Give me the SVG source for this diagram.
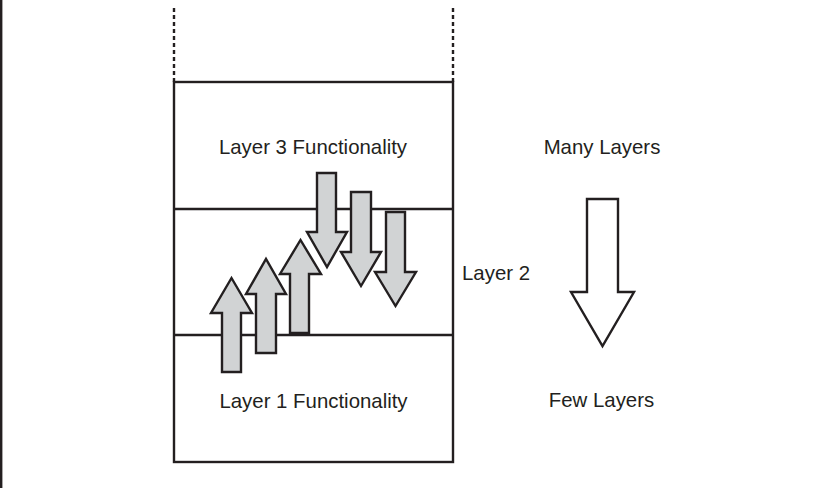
<svg xmlns="http://www.w3.org/2000/svg" width="828" height="493" viewBox="0 0 828 493">
  <style>
    .ln { stroke: #231f20; stroke-width: 2.4; fill: none; }
    .dash { stroke: #231f20; stroke-width: 2.4; fill: none; stroke-dasharray: 4 3; }
    .arr { stroke: #231f20; stroke-width: 2.4; fill: #d1d3d4; stroke-linejoin: miter; }
    .hollow { stroke: #231f20; stroke-width: 2.4; fill: #ffffff; stroke-linejoin: miter; }
    .lbl { font-family: "Liberation Sans", Arial, sans-serif; font-size: 20.4px; fill: #231f20; }
  </style>
  <rect width="828" height="493" fill="#ffffff"/>

  <!-- page rule on the left -->
  <line x1="1.2" y1="0" x2="1.2" y2="488" class="ln" stroke-width="2.5"/>

  <!-- layer stack -->
  <g id="stack">
    <line class="dash" x1="174" y1="8" x2="174" y2="82"/>
    <line class="dash" x1="453" y1="8" x2="453" y2="82"/>
    <rect class="ln" x="174" y="82" width="279" height="380"/>
  </g>
  <g id="layer3">
    <line class="ln" x1="174" y1="209" x2="453" y2="209"/>
    <text class="lbl" x="313" y="153.5" text-anchor="middle">Layer 3 Functionality</text>
  </g>
  <g id="layer2">
    <line class="ln" x1="174" y1="335" x2="453" y2="335"/>
    <text class="lbl" x="462" y="279.5">Layer 2</text>
  </g>
  <g id="layer1">
    <text class="lbl" x="313.5" y="407.5" text-anchor="middle">Layer 1 Functionality</text>
  </g>

  <!-- upward and downward flow arrows -->
  <g id="connectors">
    <polygon class="arr" points="222,372 241,372 241,313 252,313 231.5,278 211,313 222,313"/>
    <polygon class="arr" points="256,353 276,353 276,294 286,294 266,259 246,294 256,294"/>
    <polygon class="arr" points="290,333 309,333 309,274 321,274 300.5,240 280,274 290,274"/>
    <polygon class="arr" points="317,173 336,173 336,232 347,232 327,267 307,232 317,232"/>
    <polygon class="arr" points="351,192 371,192 371,252 381,252 361,286 341,252 351,252"/>
    <polygon class="arr" points="386,212 405,212 405,272 416,272 395.5,306 375,272 386,272"/>
  </g>

  <!-- many-to-few scale -->
  <g id="scale">
    <text class="lbl" x="602" y="153.5" text-anchor="middle">Many Layers</text>
    <polygon class="hollow" points="587,199 618,199 618,292 634,292 602.5,346 571,292 587,292"/>
    <text class="lbl" x="601.5" y="407" text-anchor="middle">Few Layers</text>
  </g>
</svg>
